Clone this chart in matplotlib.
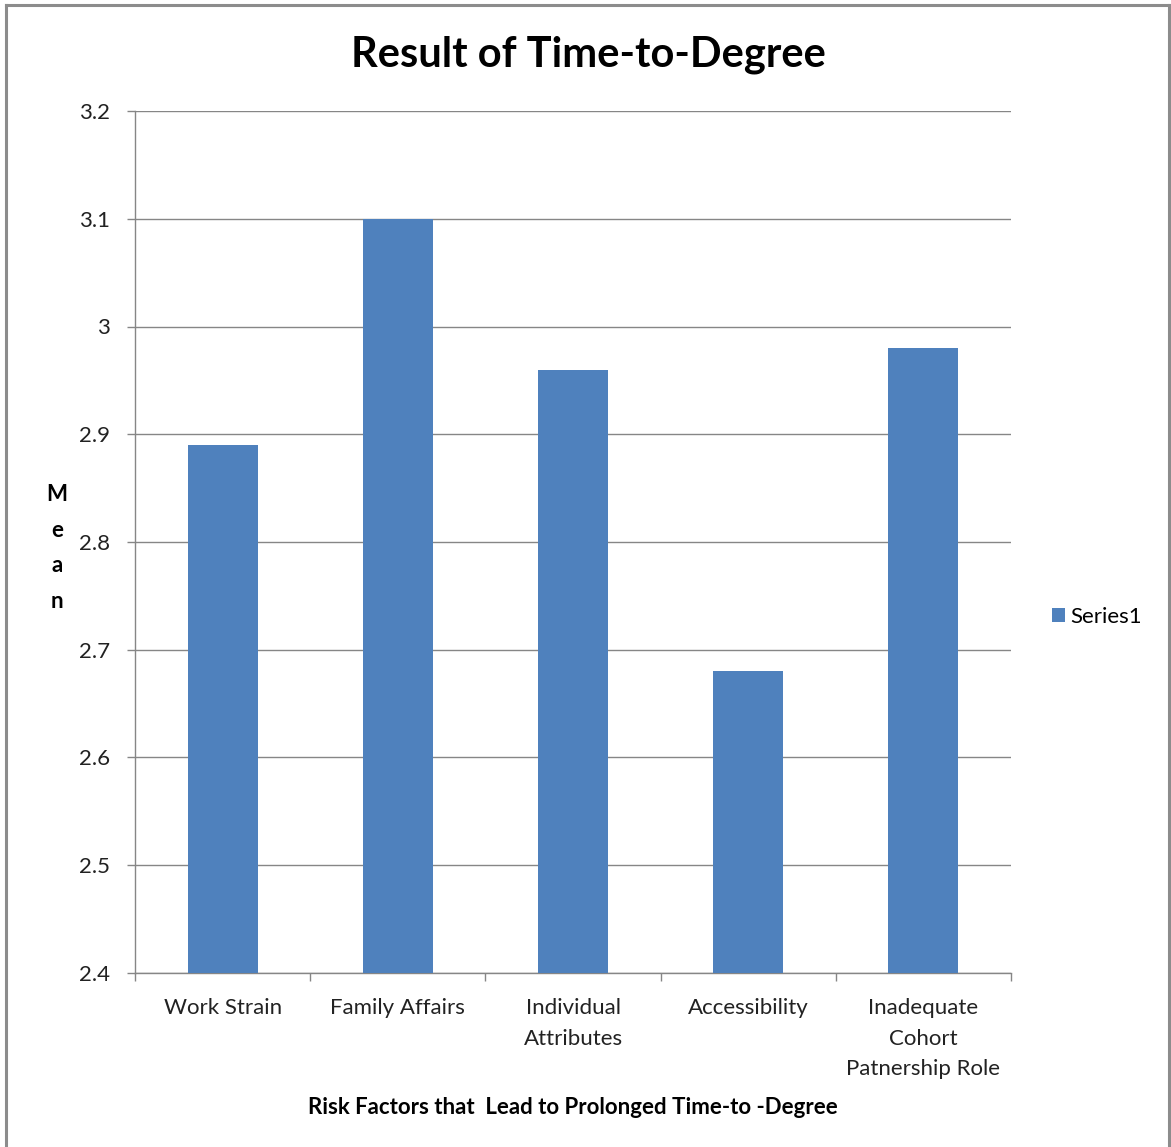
import matplotlib
matplotlib.use("Agg")
import matplotlib.pyplot as plt

plt.rcParams['font.family'] = ['Lato', 'DejaVu Sans']

categories = ["Work Strain", "Family Affairs", "Individual\nAttributes",
              "Accessibility", "Inadequate\nCohort\nPatnership Role"]
means = [2.89, 3.10, 2.96, 2.68, 2.98]
y_ticks = [2.4, 2.5, 2.6, 2.7, 2.8, 2.9, 3.0, 3.1, 3.2]
y_tick_labels = ["2.4", "2.5", "2.6", "2.7", "2.8", "2.9", "3", "3.1", "3.2"]
series_name = "Series1"

BAR = "#4F81BD"
GRID = "#868686"
FRAME = "#8c8c8c"

W, H = 1171, 1147
fig = plt.figure(figsize=(W / 100, H / 100), dpi=100)

# outer chart frame (open at the bottom)
for xs, ys in [([6 / W, 6 / W], [0, 1 - 5 / H]),
               ([6 / W, 1169 / W], [1 - 5 / H, 1 - 5 / H]),
               ([1169 / W, 1169 / W], [0, 1 - 5 / H])]:
    fig.add_artist(plt.Line2D(xs, ys, color=FRAME, lw=2.2, transform=fig.transFigure))

left, right, top, bottom = 135, 1011, 111, 973
ax = fig.add_axes([left / W, 1 - bottom / H, (right - left) / W, (bottom - top) / H])

x = list(range(len(categories)))
ax.bar(x, [m - y_ticks[0] for m in means], bottom=y_ticks[0], width=0.4,
       color=BAR, label=series_name, zorder=3)

ax.set_xlim(-0.5, len(categories) - 0.5)
ax.set_ylim(y_ticks[0], y_ticks[-1])
ax.set_yticks(y_ticks)
ax.set_yticklabels(y_tick_labels)
ax.yaxis.grid(True, color=GRID, lw=1.0, zorder=0)
ax.set_axisbelow(True)

ax.set_xticks(x)
ax.set_xticklabels(categories, linespacing=1.66)
ax.set_xticks([i - 0.5 for i in range(len(categories) + 1)], minor=True)
ax.tick_params(axis="x", which="major", length=0, pad=18, labelsize=16, colors="#222222")
ax.tick_params(axis="x", which="minor", length=6, width=1, color=GRID)
ax.tick_params(axis="y", length=6, width=1, color=GRID, pad=12, labelsize=16,
               labelcolor="#222222")

for s in ["top", "right"]:
    ax.spines[s].set_visible(False)
for s in ["left", "bottom"]:
    ax.spines[s].set_color(GRID)
    ax.spines[s].set_linewidth(1.0)

fig.text(588 / W, 1 - 55 / H, "Result of Time-to-Degree", ha="center", va="center",
         fontsize=30, fontweight="bold")
ax.set_xlabel("Risk Factors that  Lead to Prolonged Time-to -Degree", fontsize=16,
              fontweight="bold", labelpad=13)
fig.text(57 / W, 1 - 548 / H, "M\ne\na\nn", ha="center", va="center", fontsize=16,
         fontweight="bold", linespacing=1.85)

ax.legend(loc="center left", bbox_to_anchor=(1041 / W, 1 - 617 / H),
          bbox_transform=fig.transFigure, frameon=False, fontsize=16,
          handlelength=0.6, handleheight=0.6, handletextpad=0.2, borderpad=0)

fig.savefig("out.png", dpi=100)
